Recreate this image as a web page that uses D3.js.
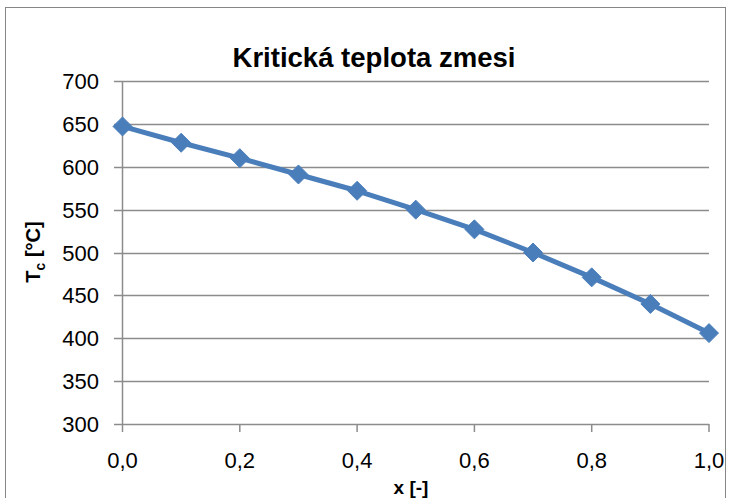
<!DOCTYPE html>
<html><head><meta charset="utf-8">
<script src="https://cdn.jsdelivr.net/npm/d3@7"></script>
<style>body{margin:0;background:#fff}svg{display:block}</style>
</head><body>
<script>
const xValues = [0.0, 0.1, 0.2, 0.3, 0.4, 0.5, 0.6, 0.7, 0.8, 0.9, 1.0];
const tcValues = [647, 628, 610, 591, 572, 550, 527, 500, 471, 440, 406];
const xTicks = [0.0, 0.2, 0.4, 0.6, 0.8, 1.0];
const yTicks = [300, 350, 400, 450, 500, 550, 600, 650, 700];
const title = "Kritická teplota zmesi";

const W = 730, H = 498;
const svg = d3.select("body").append("svg").attr("width", W).attr("height", H);
const font = "'Liberation Sans', Arial, sans-serif";

svg.append("rect").attr("x", 5.5).attr("y", 7.5).attr("width", 720).attr("height", 500)
  .attr("fill", "#fff").attr("stroke", "#868686").attr("stroke-width", 1);

const x = d3.scaleLinear().domain([0, 1]).range([122.5, 709]);
const y = d3.scaleLinear().domain([300, 700]).range([424, 81]);

const grid = "#8c8c8c";
svg.append("g").selectAll("line").data(yTicks).join("line")
  .attr("x1", 114).attr("x2", x(1))
  .attr("y1", d => Math.round(y(d)) + 0.5).attr("y2", d => Math.round(y(d)) + 0.5)
  .attr("stroke", grid).attr("stroke-width", 1.5);
svg.append("line").attr("x1", x(0)).attr("x2", x(0)).attr("y1", y(700)).attr("y2", y(300))
  .attr("stroke", grid).attr("stroke-width", 1.5);
svg.append("g").selectAll("line").data(xTicks).join("line")
  .attr("x1", d => x(d)).attr("x2", d => x(d)).attr("y1", y(300)).attr("y2", y(300) + 8)
  .attr("stroke", grid).attr("stroke-width", 1.5);

svg.append("g").selectAll("text").data(yTicks).join("text")
  .attr("x", 99).attr("y", d => y(d) + 8).attr("text-anchor", "end")
  .attr("font-family", font).attr("font-size", 22).attr("fill", "#000").text(d => d);
svg.append("g").selectAll("text").data(xTicks).join("text")
  .attr("x", d => x(d)).attr("y", 468).attr("text-anchor", "middle")
  .attr("font-family", font).attr("font-size", 22).attr("fill", "#000")
  .text(d => d.toFixed(1).replace(".", ","));

svg.append("text").attr("x", 374).attr("y", 67).attr("text-anchor", "middle")
  .attr("font-family", font).attr("font-weight", "bold").attr("font-size", 27)
  .attr("textLength", 283).attr("lengthAdjust", "spacingAndGlyphs").text(title);

svg.append("text").attr("x", 411).attr("y", 494).attr("text-anchor", "middle")
  .attr("font-family", font).attr("font-weight", "bold").attr("font-size", 19).text("x [-]");
const yl = svg.append("text").attr("transform", "translate(40,252) rotate(-90)")
  .attr("text-anchor", "middle").attr("font-family", font).attr("font-weight", "bold").attr("font-size", 20);
yl.append("tspan").text("T");
yl.append("tspan").attr("font-size", 14).attr("dy", 5).text("c");
yl.append("tspan").attr("dy", -5).text(" [°C]");

const data = xValues.map((v, i) => [v, tcValues[i]]);
const blue = "#4a7ebb";
svg.append("path").datum(data)
  .attr("d", d3.line().x(d => x(d[0])).y(d => y(d[1])))
  .attr("fill", "none").attr("stroke", blue).attr("stroke-width", 5).attr("stroke-linejoin", "round");
svg.append("g").selectAll("path").data(data).join("path")
  .attr("transform", d => `translate(${x(d[0])},${y(d[1])})`)
  .attr("d", "M0,-9.5L9.5,0L0,9.5L-9.5,0Z").attr("fill", blue).attr("stroke", blue).attr("stroke-width", 1);
</script>
</body></html>
